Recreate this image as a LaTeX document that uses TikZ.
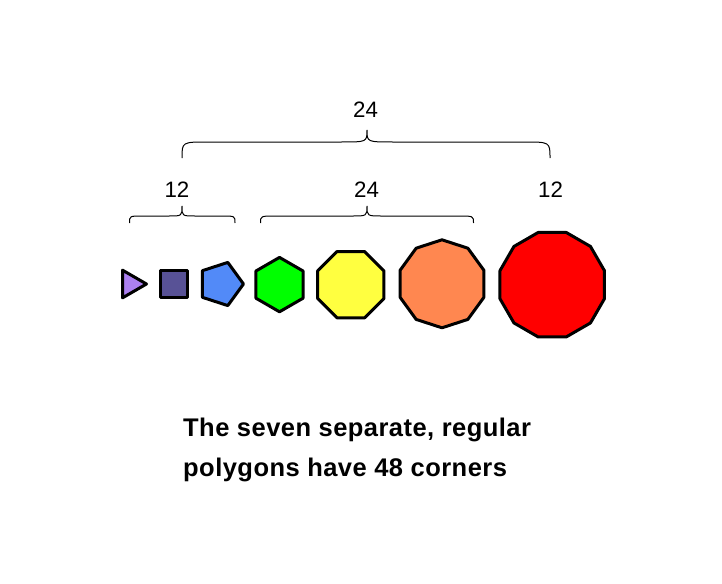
\documentclass[tikz,border=0pt]{standalone}
\usepackage{fontspec}
\setmainfont{Liberation Sans}
\newfontfamily\capfont[LetterSpace=1.8]{Liberation Sans}
\usetikzlibrary{calc}
\definecolor{triC}{RGB}{172,128,240}
\definecolor{sqC}{RGB}{88,82,150}
\definecolor{penC}{RGB}{82,138,248}
\definecolor{hexC}{RGB}{0,255,0}
\definecolor{octC}{RGB}{255,255,64}
\definecolor{decC}{RGB}{255,135,80}
\definecolor{dodC}{RGB}{255,0,0}
\tikzset{
  poly/.style={draw=black, line width=3pt, line join=round},
  bracel/.style={draw=black, line width=1pt},
  numlabel/.style={font=\fontsize{22.3}{26}\selectfont, inner sep=0pt, anchor=base},
  caption/.style={font=\capfont\bfseries\fontsize{25.5}{40}\selectfont, inner sep=0pt, anchor=base west}
}
\newcommand{\regpoly}[6]{% name, x, y, R, n, start angle
  \coordinate (#1) at (#2,#3);
  \draw[poly] ($(#1)+(#6:#4)$)
    \foreach \k in {1,...,\numexpr#5-1\relax}{ -- ($(#1)+({#6+360/#5*\k}:#4)$) } -- cycle;
}
\newcommand{\mybrace}[7]{% x1, x2, m, h, e, p, w
  \draw[bracel] (#1,#5) .. controls (#1,#4) .. ({#1+#7},#4) -- ({#3-#7},#4)
    .. controls (#3,#4) .. (#3,#6) .. controls (#3,#4) .. ({#3+#7},#4)
    -- ({#2-#7},#4) .. controls (#2,#4) .. (#2,#5);
}
\begin{document}
\begin{tikzpicture}[x=1pt,y=-1pt]
\useasboundingbox (0,0) rectangle (722,583);
% polygons
\begin{scope}[every path/.append style={fill=triC}]
\regpoly{tri}{130.5}{284}{16}{3}{0}
\end{scope}
\begin{scope}[every path/.append style={fill=sqC}]
\regpoly{sq}{174}{284}{19.1}{4}{45}
\end{scope}
\begin{scope}[every path/.append style={fill=penC}]
\regpoly{pen}{220.8}{284}{22.7}{5}{0}
\end{scope}
\begin{scope}[every path/.append style={fill=hexC}]
\regpoly{hex}{279.5}{284.6}{27.2}{6}{90}
\end{scope}
\begin{scope}[every path/.append style={fill=octC}]
\regpoly{oct}{350.8}{284.7}{35.9}{8}{22.5}
\end{scope}
\begin{scope}[every path/.append style={fill=decC}]
\regpoly{dec}{442}{283.8}{44}{10}{90}
\end{scope}
\begin{scope}[every path/.append style={fill=dodC}]
\regpoly{dod}{552.2}{284.7}{54.1}{12}{15}
\end{scope}
% braces
\mybrace{182}{550}{367}{142}{158}{130}{26}
\mybrace{129.5}{235}{182}{216}{223}{206}{13}
\mybrace{260.5}{473.5}{367}{216}{223}{206}{15}
% labels
\node[numlabel] (top24) at (365.5,117.7) {24};
\node[numlabel] (l12) at (177,197.7) {12};
\node[numlabel] (m24) at (366.5,197.7) {24};
\node[numlabel] (r12) at (550.5,197.7) {12};
% caption
\node[caption] (line1) at (183,436.8) {The seven separate, regular};
\node[caption] (line2) at (183,476.8) {polygons have 48 corners};
\end{tikzpicture}
\end{document}
